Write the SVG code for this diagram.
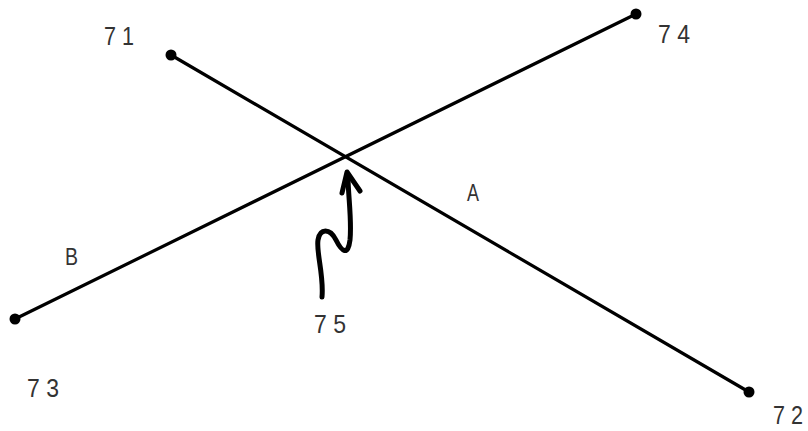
<svg xmlns="http://www.w3.org/2000/svg" width="808" height="431" viewBox="0 0 808 431">
<style>
.ln{stroke:#000;stroke-width:3.2;fill:none;stroke-linecap:round;stroke-linejoin:round}
.arr{stroke-width:5}
.dot{fill:#000}
.lbl{font-family:"Liberation Sans",Arial,sans-serif;font-size:26px;fill:#333}
.sm{font-size:24px}
</style>
<rect width="808" height="431" fill="#fff"/>
<g id="connectors">
<line id="lineA" class="ln" x1="171" y1="55" x2="749" y2="392"/>
<line id="lineB" class="ln" x1="15" y1="319" x2="636" y2="14"/>
<path id="arrow75" class="ln arr" d="M322,297 C324,275 316,252 318,240 C320,228 330,228 336,240 C342,252 348,256 350,240 C352,220 348,195 348,176"/>
<path class="ln arr" d="M342,193 L347,172 L360,191"/>
</g>
<g id="n71"><circle class="dot" cx="171" cy="55" r="5.5"/><text class="lbl" x="104" y="45" textLength="30" lengthAdjust="spacingAndGlyphs">7 1</text></g>
<g id="n74"><circle class="dot" cx="636" cy="14" r="5.5"/><text class="lbl" x="658" y="43" textLength="32" lengthAdjust="spacingAndGlyphs">7 4</text></g>
<g id="n73"><circle class="dot" cx="15" cy="319" r="5.5"/><text class="lbl" x="27" y="397" textLength="32" lengthAdjust="spacingAndGlyphs">7 3</text></g>
<g id="n72"><circle class="dot" cx="749" cy="392" r="5.5"/><text class="lbl" x="773" y="424" textLength="30" lengthAdjust="spacingAndGlyphs">7 2</text></g>
<g id="lblA"><text class="lbl sm" x="467" y="201" textLength="12" lengthAdjust="spacingAndGlyphs">A</text></g>
<g id="lblB"><text class="lbl sm" x="65" y="265" textLength="13" lengthAdjust="spacingAndGlyphs">B</text></g>
<g id="n75"><text class="lbl" x="314" y="333" textLength="32" lengthAdjust="spacingAndGlyphs">7 5</text></g>
</svg>
